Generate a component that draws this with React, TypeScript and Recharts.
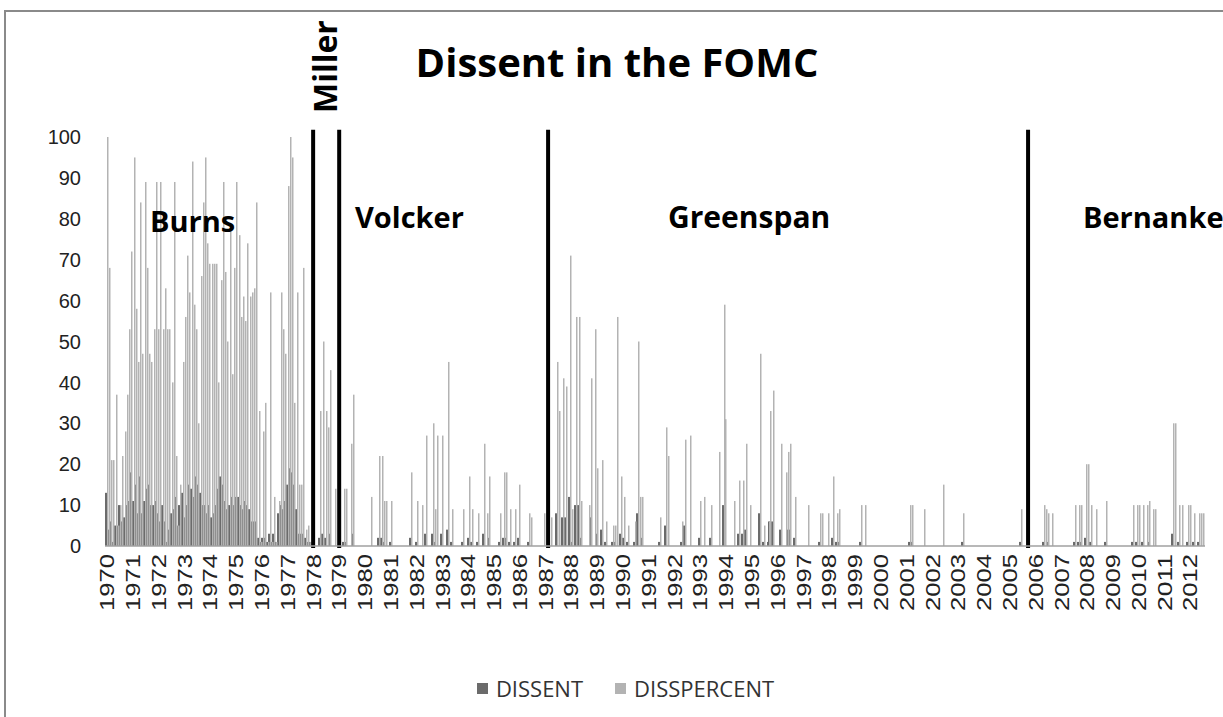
import { ComposedChart, Bar, XAxis, YAxis, ReferenceLine } from 'recharts';

// [date as decimal year, DISSENT, DISSPERCENT]
type Meeting = [number, number, number];

// Burns years: meetings come roughly evenly spaced, so only their values are listed
const burnsFirst = 1969.99;
const burnsLast = 1977.87;
const burnsPercent = [
  100, 68, 21, 21, 37, 5, 10, 22, 28, 37,
  53, 72, 95, 58, 45, 84, 47, 89, 68, 47,
  45, 53, 89, 53, 89, 53, 63, 53, 53, 40,
  89, 22, 5, 15, 45, 56, 71, 62, 94, 59,
  53, 30, 66, 84, 95, 74, 69, 69, 69, 69,
  40, 65, 89, 67, 50, 77, 42, 68, 89, 76,
  56, 61, 55, 74, 61, 62, 63, 84, 33, 1,
  28, 35, 1, 62, 1, 12, 1, 11, 62, 53,
  47, 88, 100, 95, 35, 62, 15, 15, 68, 4,
  5, 1,
];
const burnsDissent = [
  13, 4, 6, 1, 5, 5, 10, 6, 7, 10,
  11, 18, 11, 15, 8, 17, 8, 11, 14, 15,
  10, 10, 11, 8, 6, 10, 6, 1, 4, 8,
  9, 12, 5, 10, 13, 7, 10, 15, 14, 12,
  17, 15, 13, 10, 10, 8, 10, 7, 8, 10,
  14, 17, 15, 11, 9, 10, 12, 10, 12, 12,
  10, 9, 11, 10, 9, 6, 6, 6, 2, 1,
  2, 2, 1, 3, 1, 3, 1, 8, 10, 9,
  11, 15, 19, 18, 15, 9, 3, 3, 3, 2,
  1, 1,
];

const millerMeetings: Meeting[] = [
  [1978.27, 2, 33], [1978.38, 3, 50], [1978.48, 2, 33],
  [1978.58, 0, 29], [1978.66, 3, 43], [1978.84, 0, 14],
];

const volckerMeetings: Meeting[] = [
  [1979.2, 1, 14], [1979.28, 1, 14], [1979.46, 0, 25], [1979.55, 3, 37],
  [1980.22, 0, 12], [1980.55, 2, 22], [1980.65, 2, 22], [1980.75, 1, 11],
  [1980.83, 0, 11], [1981.0, 1, 11], [1981.8, 2, 18], [1982.03, 1, 11],
  [1982.2, 0, 10], [1982.38, 3, 27], [1982.64, 3, 30], [1982.72, 1, 9],
  [1982.81, 0, 27], [1982.98, 3, 27], [1983.22, 4, 45], [1983.39, 1, 9],
  [1983.82, 1, 9], [1984.02, 2, 17], [1984.17, 1, 9], [1984.38, 1, 8],
  [1984.62, 3, 25], [1984.72, 0, 8], [1984.8, 2, 17], [1985.23, 1, 8],
  [1985.38, 2, 18], [1985.46, 2, 18], [1985.62, 1, 9], [1985.81, 1, 9],
  [1985.96, 2, 15], [1986.36, 1, 8], [1986.44, 0, 7], [1986.93, 0, 8],
];

const greenspanMeetings: Meeting[] = [
  [1987.22, 0, 7], [1987.46, 8, 45], [1987.53, 0, 33], [1987.68, 7, 41],
  [1987.8, 7, 39], [1987.97, 12, 71], [1988.04, 1, 9], [1988.19, 10, 56],
  [1988.29, 10, 56], [1988.39, 2, 11], [1988.69, 0, 10], [1988.75, 7, 41],
  [1988.92, 0, 53], [1989.0, 3, 19], [1989.21, 4, 21], [1989.34, 1, 6],
  [1989.6, 1, 5], [1989.7, 1, 5], [1989.76, 0, 56], [1989.94, 3, 17],
  [1990.04, 2, 12], [1990.21, 1, 5], [1990.46, 1, 6], [1990.59, 8, 50],
  [1990.65, 0, 12], [1990.73, 2, 12], [1991.43, 1, 7], [1991.68, 5, 29],
  [1991.74, 0, 22], [1992.29, 1, 6], [1992.42, 5, 26], [1992.59, 0, 27],
  [1992.98, 2, 11], [1993.13, 0, 12], [1993.43, 2, 10], [1993.73, 0, 23],
  [1993.91, 10, 59], [1993.98, 0, 31], [1994.32, 0, 11], [1994.5, 3, 16],
  [1994.65, 3, 16], [1994.76, 4, 25], [1994.92, 0, 10], [1995.31, 8, 47],
  [1995.47, 1, 5], [1995.65, 1, 6], [1995.71, 6, 33], [1995.81, 6, 38],
  [1996.15, 4, 25], [1996.31, 0, 18], [1996.4, 4, 23], [1996.49, 4, 25],
  [1996.66, 2, 12], [1997.17, 0, 10], [1997.63, 1, 8], [1997.71, 0, 8],
  [1997.94, 0, 8], [1998.15, 2, 17], [1998.29, 1, 8], [1998.4, 1, 9],
  [1999.23, 1, 10], [1999.39, 0, 10], [2001.13, 1, 10], [2001.23, 1, 10],
  [2001.68, 0, 9], [2002.43, 0, 15], [2003.19, 1, 8], [2005.45, 1, 9],
];

const bernankeMeetings: Meeting[] = [
  [2006.34, 1, 10], [2006.41, 0, 9], [2006.5, 1, 8], [2006.65, 0, 8],
  [2007.52, 1, 10], [2007.68, 1, 10], [2007.78, 1, 10], [2007.95, 2, 20],
  [2008.02, 0, 20], [2008.17, 1, 10], [2008.33, 0, 9], [2008.74, 1, 11],
  [2009.77, 1, 10], [2009.92, 1, 10], [2010.03, 0, 10], [2010.17, 1, 10],
  [2010.31, 0, 10], [2010.4, 1, 11], [2010.57, 0, 9], [2010.62, 0, 9],
  [2011.33, 3, 30], [2011.41, 0, 30], [2011.57, 1, 10], [2011.7, 0, 10],
  [2011.9, 1, 10], [2012.0, 0, 10], [2012.15, 1, 8], [2012.33, 1, 8],
  [2012.43, 0, 8], [2012.51, 0, 8],
];

// where the chair changes were drawn
const chairChanges = [1977.99, 1979.0, 1987.1, 2005.71];

const yearTicks = [
  1970, 1971, 1972, 1973, 1974, 1975, 1976, 1977, 1978, 1979, 1980,
  1981, 1982, 1983, 1984, 1985, 1986, 1987, 1988, 1989, 1990, 1991,
  1992, 1993, 1994, 1995, 1996, 1997, 1998, 1999, 2000, 2001, 2002,
  2003, 2004, 2005, 2006, 2007, 2008, 2009, 2010, 2011, 2012,
];
const valueTicks = [0, 10, 20, 30, 40, 50, 60, 70, 80, 90, 100];

const burnsMeetings: Meeting[] = burnsPercent.map((p, i) => [
  burnsFirst + (i * (burnsLast - burnsFirst)) / (burnsPercent.length - 1),
  burnsDissent[i] ?? 0,
  p,
]);

const data = [
  ...burnsMeetings,
  ...millerMeetings,
  ...volckerMeetings,
  ...greenspanMeetings,
  ...bernankeMeetings,
].map(([date, dissent, pct]) => ({ date, DISSENT: dissent, DISSPERCENT: pct }));

const DARK = '#6b6b6b';
const LIGHT = '#b3b3b3';
const AXIS_FONT = '"Liberation Sans", Arial, sans-serif';
const LABEL_FONT = '"Open Sans", "Noto Sans", sans-serif';

// Recharts squeezes the bars on a number axis down to the closest pair of dates,
// so draw them as fixed hairlines either side of the meeting date instead.
const DissentBar = (props: any) => {
  const { x, y, width, height, fill } = props;
  if (!height || height <= 0) return <g />;
  const c = Math.round(x + width);
  return <rect x={c - 2} y={y} width={2} height={height} fill={fill} />;
};
const PercentBar = (props: any) => {
  const { x, y, height, fill } = props;
  if (!height || height <= 0) return <g />;
  return <rect x={Math.round(x)} y={y} width={1.5} height={height} fill={fill} />;
};

const YearTick = ({ x, y, payload }: { x?: number; y?: number; payload?: { value: number } }) => (
  <text
    x={x}
    y={y}
    transform={`rotate(-90 ${x} ${y})`}
    textAnchor="end"
    dy="0.36em"
    fill="#222"
    fontSize={20}
    fontFamily={AXIS_FONT}
    textLength={57}
    lengthAdjust="spacingAndGlyphs"
  >
    {payload?.value}
  </text>
);

export default function App() {
  return (
    <div style={{ position: 'absolute', left: 0, top: 0, width: 1223, height: 717, overflow: 'hidden', background: '#fff' }}>
      <div
        style={{
          position: 'absolute',
          left: 4,
          top: 10,
          width: 1240,
          height: 730,
          border: '2px solid #8a8a8a',
          boxSizing: 'border-box',
        }}
      />
      <div style={{ position: 'absolute', left: 0, top: 0 }}>
        <ComposedChart
          width={1223}
          height={717}
          data={data}
          margin={{ top: 137, right: 18, bottom: 101, left: 45 }}
          barGap={0}
          barCategoryGap={0}
        >
          <XAxis
            dataKey="date"
            type="number"
            domain={[1969.92, 2012.57]}
            ticks={yearTicks}
            interval={0}
            allowDataOverflow
            tickLine={false}
            axisLine={{ stroke: '#a0a0a0', strokeWidth: 1.5 }}
            tick={<YearTick />}
            height={70}
          />
          <YAxis
            type="number"
            domain={[0, 100]}
            ticks={valueTicks}
            interval={0}
            axisLine={false}
            tickLine={false}
            tickSize={0}
            tickMargin={24}
            width={60}
            tick={{ fill: '#222', fontSize: 20, fontFamily: AXIS_FONT }}
          />
          <Bar dataKey="DISSENT" fill={DARK} barSize={1} shape={DissentBar} isAnimationActive={false} />
          <Bar dataKey="DISSPERCENT" fill={LIGHT} barSize={1} shape={PercentBar} isAnimationActive={false} />
          {chairChanges.map((d) => (
            <ReferenceLine
              key={d}
              segment={[
                { x: d, y: -0.5 },
                { x: d, y: 101.8 },
              ]}
              stroke="#000"
              strokeWidth={4}
              ifOverflow="visible"
            />
          ))}
        </ComposedChart>
      </div>

      {/* title and chair names */}
      <svg width={1223} height={717} style={{ position: 'absolute', left: 0, top: 0, pointerEvents: 'none' }}>
        <text x={617} y={77} textAnchor="middle" fontFamily={LABEL_FONT} fontWeight={700} fontSize={40} fill="#000">
          Dissent in the FOMC
        </text>
        <text x={337} y={113} transform="rotate(-90 337 113)" fontFamily={LABEL_FONT} fontWeight={700} fontSize={32} fill="#000">
          Miller
        </text>
        <text x={150} y={232} fontFamily={LABEL_FONT} fontWeight={700} fontSize={29} fill="#000">
          Burns
        </text>
        <text x={355} y={228} fontFamily={LABEL_FONT} fontWeight={700} fontSize={29} fill="#000">
          Volcker
        </text>
        <text x={668} y={228} fontFamily={LABEL_FONT} fontWeight={700} fontSize={30} fill="#000">
          Greenspan
        </text>
        <text x={1083} y={228} fontFamily={LABEL_FONT} fontWeight={700} fontSize={29} fill="#000">
          Bernanke
        </text>
      </svg>

      {/* legend */}
      <div
        style={{
          position: 'absolute',
          left: 0,
          top: 675,
          width: 1223,
          paddingLeft: 28,
          boxSizing: 'border-box',
          display: 'flex',
          justifyContent: 'center',
          gap: 32,
          fontFamily: LABEL_FONT,
          fontSize: 22,
          color: '#333',
          lineHeight: '26px',
        }}
      >
        {[
          { name: 'DISSENT', color: DARK },
          { name: 'DISSPERCENT', color: LIGHT },
        ].map((item) => (
          <div key={item.name} style={{ display: 'flex', alignItems: 'center', gap: 8 }}>
            <span style={{ display: 'inline-block', width: 11, height: 11, background: item.color }} />
            <span>{item.name}</span>
          </div>
        ))}
      </div>
    </div>
  );
}
